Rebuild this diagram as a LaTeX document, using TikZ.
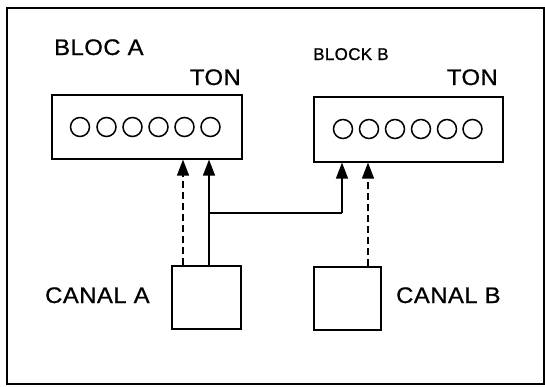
\documentclass[tikz,border=0pt]{standalone}
\usepackage{graphicx}
\usepackage{fontspec}
\setmainfont{Liberation Sans}[LetterSpace=2, FakeBold=0.8]
\usetikzlibrary{arrows.meta}
\newcommand{\widetext}[1]{\scalebox{1.06}[1]{#1}}
\tikzset{
  frame/.style={draw, line width=2pt},
  blockbox/.style={draw, line width=1.6pt, rectangle, inner sep=0pt, anchor=north west},
  hole/.style={draw, line width=1.5pt, circle, minimum size=19pt, inner sep=0pt},
  lbl/.style={inner sep=0pt, font=\fontsize{22.5}{26}\selectfont},
  smalllbl/.style={inner sep=0pt, font=\fontsize{17}{20}\selectfont},
  conn/.style={line width=1.3pt, -{Triangle[length=16pt,width=12pt]}},
  dconn/.style={conn, dash pattern=on 7pt off 4pt},
  link/.style={line width=1.3pt}
}
\begin{document}
\begin{tikzpicture}[x=1pt,y=-1pt]
\useasboundingbox (0,0) rectangle (545,386);
\draw[frame] (7,8) rectangle (544,384);
% blocks
\node[blockbox, minimum width=190pt, minimum height=64pt] (blockA) at (51,94) {};
\node[blockbox, minimum width=189pt, minimum height=65pt] (blockB) at (313,96) {};
\foreach \x [count=\i] in {80,106.5,132.5,158.5,184.5,210.5}
  \node[hole] (a\i) at (\x,127) {};
\foreach \x [count=\i] in {343,369,395,421,447,472.5}
  \node[hole] (b\i) at (\x,129) {};
% channels
\node[blockbox, minimum width=69pt, minimum height=63pt] (canalA) at (171,265) {};
\node[blockbox, minimum width=67pt, minimum height=63pt] (canalB) at (313,266) {};
% labels
\node[lbl, anchor=base west] (lblA) at (54,55) {\widetext{BLOC A}};
\node[lbl, anchor=base east] (tonA) at (241,85) {\widetext{TON}};
\node[smalllbl, anchor=base west] (lblB) at (313,60) {BLOCK B};
\node[lbl, anchor=base east] (tonB) at (498,85) {\widetext{TON}};
\node[lbl, anchor=base west] (canA) at (45,303) {\widetext{CANAL A}};
\node[lbl, anchor=base west] (canB) at (396,303) {\widetext{CANAL B}};
% connectors
\coordinate (ja) at (209,213);
\coordinate (jb) at (342,213);
\draw[dconn] (canalA.north west -| 183,0) -- (blockA.south west -| 183,0);
\draw[conn] (canalA.north west -| ja) -- (blockA.south west -| ja);
\draw[link] (ja) -- (jb);
\draw[conn] (jb) -- (blockB.south west -| jb);
\draw[dconn] (canalB.north west -| 368,0) -- (blockB.south west -| 368,0);
\end{tikzpicture}
\end{document}
